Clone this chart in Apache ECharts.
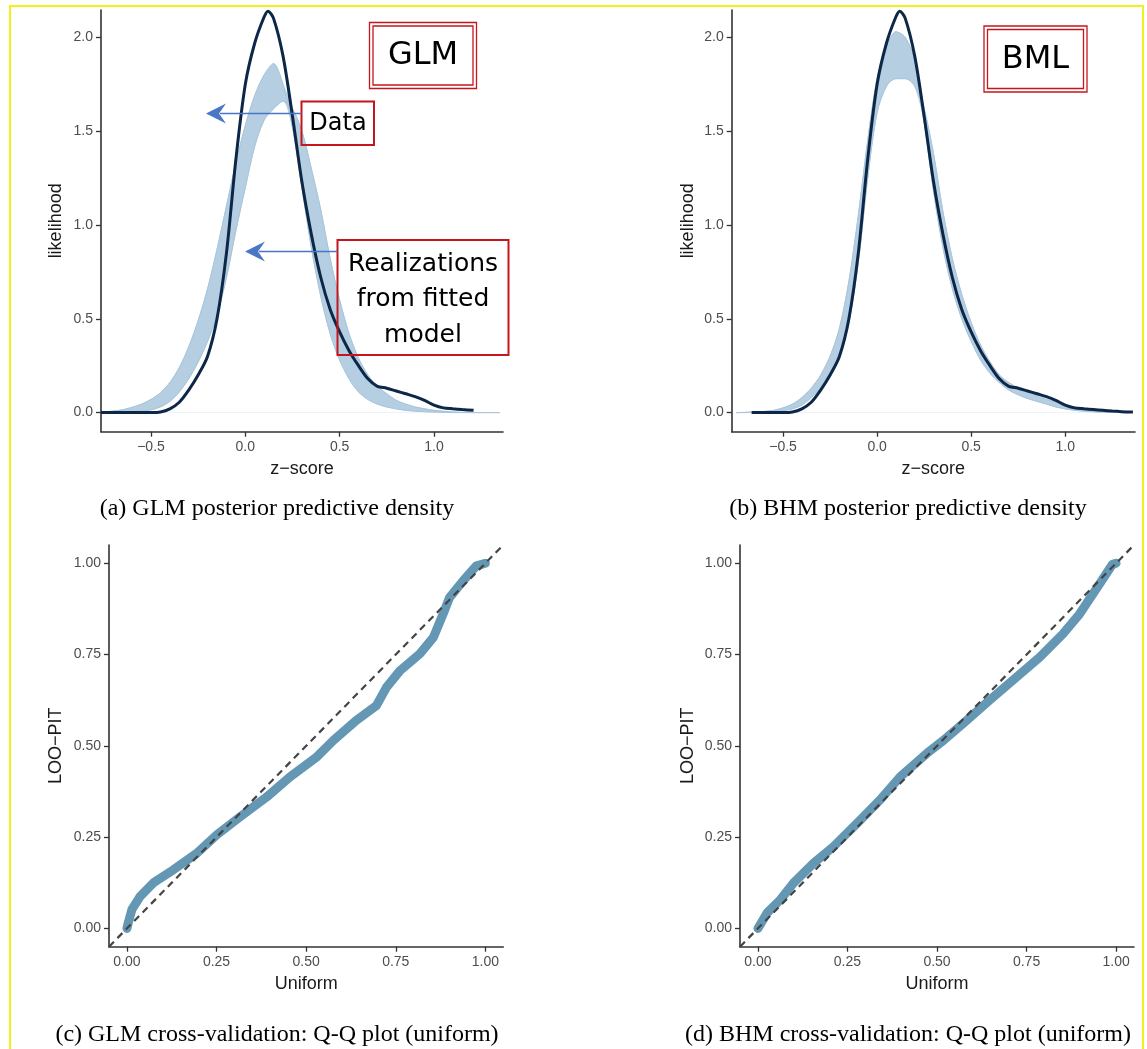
<!DOCTYPE html>
<html>
<head>
<meta charset="utf-8">
<script src="https://cdn.jsdelivr.net/npm/echarts@6/dist/echarts.min.js"></script>
<style>
html, body { margin: 0; padding: 0; background: #fff; }
#chart { width: 1147px; height: 1049px; }
</style>
</head>
<body>
<div id="chart"></div>
<script>
// z-score grid shared by the realization envelopes
var zGrid = [-0.75, -0.7, -0.65, -0.6, -0.55, -0.5, -0.45, -0.4, -0.35, -0.3, -0.25, -0.2, -0.15, -0.1, -0.05,
  0, 0.05, 0.1, 0.15, 0.2, 0.25, 0.3, 0.35, 0.4, 0.45, 0.5, 0.55, 0.6, 0.65, 0.7, 0.75, 0.8, 0.85, 0.9, 0.95,
  1.0, 1.05, 1.1, 1.15, 1.2, 1.25, 1.3, 1.35]

// GLM realizations: leftmost and rightmost curves of the light band
var glmLeft = [0.003, 0.008, 0.015, 0.028, 0.045, 0.07, 0.105, 0.16, 0.24, 0.35, 0.49, 0.66, 0.87, 1.1, 1.33,
  1.53, 1.69, 1.8, 1.86, 1.75, 1.52, 1.2, 0.88, 0.62, 0.42, 0.28, 0.18, 0.11, 0.07, 0.045, 0.03, 0.02, 0.012, 0.008, 0.005,
  0.003, 0.001, 0, 0, 0, 0, 0, 0]
var glmRight = [0, 0, 0.001, 0.003, 0.008, 0.015, 0.03, 0.06, 0.11, 0.18, 0.27, 0.38, 0.52, 0.72, 0.97,
  1.2, 1.42, 1.56, 1.62, 1.66, 1.62, 1.5, 1.3, 1.08, 0.82, 0.6, 0.42, 0.29, 0.2, 0.14, 0.1, 0.065, 0.045, 0.03, 0.02,
  0.012, 0.007, 0.003, 0.001, 0, 0, 0, 0]

// BHM realizations
var bhmLeft = [0, 0.001, 0.003, 0.006, 0.012, 0.025, 0.045, 0.08, 0.13, 0.2, 0.3, 0.45, 0.7, 1.05, 1.45,
  1.78, 1.95, 2.03, 2.0, 1.88, 1.55, 1.18, 0.88, 0.66, 0.5, 0.38, 0.28, 0.21, 0.16, 0.12, 0.095, 0.075, 0.06, 0.045, 0.03,
  0.02, 0.012, 0.008, 0.004, 0.002, 0.001, 0, 0]
var bhmRight = [0, 0, 0.001, 0.002, 0.005, 0.01, 0.02, 0.04, 0.08, 0.13, 0.19, 0.3, 0.48, 0.8, 1.25,
  1.6, 1.74, 1.78, 1.78, 1.74, 1.62, 1.38, 1.07, 0.82, 0.63, 0.48, 0.36, 0.27, 0.2, 0.16, 0.13, 0.11, 0.09, 0.07, 0.055,
  0.04, 0.028, 0.018, 0.01, 0.006, 0.003, 0.002, 0.001]

// observed density (dark line)
var glmObsZ = [-0.765, -0.5, -0.45, -0.4, -0.35, -0.3, -0.25, -0.2, -0.15, -0.1, -0.05, 0, 0.05, 0.1, 0.12, 0.15,
  0.2, 0.25, 0.3, 0.35, 0.4, 0.45, 0.5, 0.55, 0.6, 0.65, 0.7, 0.75, 0.8, 0.85, 0.9, 0.95, 1.0, 1.05, 1.1, 1.15, 1.21]
var glmObsL = [0, 0, 0.003, 0.02, 0.055, 0.12, 0.2, 0.3, 0.5, 0.85, 1.35, 1.75, 1.97, 2.11, 2.14, 2.1,
  1.9, 1.58, 1.23, 0.95, 0.72, 0.55, 0.43, 0.33, 0.25, 0.18, 0.14, 0.13, 0.115, 0.1, 0.085, 0.065, 0.04, 0.025, 0.02, 0.016, 0.012]
var bhmObsZ = [-0.667, -0.5, -0.45, -0.4, -0.35, -0.3, -0.25, -0.2, -0.15, -0.1, -0.05, 0, 0.05, 0.1, 0.12, 0.15,
  0.2, 0.25, 0.3, 0.35, 0.4, 0.45, 0.5, 0.55, 0.6, 0.65, 0.7, 0.75, 0.8, 0.85, 0.9, 0.95, 1.0, 1.05, 1.1, 1.15, 1.2,
  1.25, 1.3, 1.36]
var bhmObsL = [0, 0, 0.003, 0.02, 0.055, 0.12, 0.2, 0.3, 0.5, 0.85, 1.35, 1.75, 1.97, 2.11, 2.14, 2.1,
  1.9, 1.58, 1.23, 0.95, 0.72, 0.55, 0.43, 0.33, 0.25, 0.18, 0.14, 0.13, 0.115, 0.1, 0.085, 0.065, 0.04, 0.025, 0.02, 0.016, 0.012,
  0.008, 0.005, 0.003]

// LOO-PIT against uniform quantiles
var glmUniform = [0, 0.005, 0.014, 0.037, 0.074, 0.13, 0.195, 0.25, 0.316, 0.39, 0.455, 0.53, 0.576, 0.64, 0.696,
  0.724, 0.762, 0.817, 0.855, 0.882, 0.9, 0.938, 0.975, 1.0]
var glmPit = [0, 0.02, 0.052, 0.088, 0.125, 0.161, 0.206, 0.256, 0.306, 0.36, 0.415, 0.47, 0.515, 0.57, 0.61,
  0.66, 0.706, 0.752, 0.797, 0.861, 0.906, 0.952, 0.993, 1.0]
var bhmUniform = [0, 0.026, 0.063, 0.1, 0.156, 0.211, 0.277, 0.341, 0.397, 0.471, 0.518, 0.583, 0.647, 0.722,
  0.787, 0.851, 0.898, 0.944, 0.99, 1.0]
var bhmPit = [0, 0.043, 0.079, 0.125, 0.179, 0.224, 0.288, 0.352, 0.415, 0.479, 0.515, 0.57, 0.625, 0.688,
  0.743, 0.806, 0.861, 0.929, 0.997, 1.0]
var refLine = [-0.05, 1.05]

// tick values
var zTicks = [-0.5, 0, 0.5, 1.0]
var likTicks = [0, 0.5, 1.0, 1.5, 2.0]
var qqTicks = [0, 0.25, 0.5, 0.75, 1.0]

var BAND = '#b5cee2'
var BAND_EDGE = '#a9c6dc'
var OBS = '#0d2748'
var QQ = '#6497b3'
var SANS = 'Liberation Sans, Arial, Helvetica, sans-serif'

function pairs(xs, ys) {
  return xs.map(function(x, i) { return [x, ys[i]] })
}
function bandEdge(a, b, pick) {
  return zGrid.map(function(z, i) { return [z, pick(a[i], b[i])] })
}
function fmt(d) {
  return function(v) { return (v < 0 ? '\u2212' : '') + Math.abs(v).toFixed(d) }
}

function axisOf(grid, min, max, ticks, d, name, gap) {
  return {
    gridIndex: grid, type: 'value', min: min, max: max,
    axisLine: { show: true, onZero: false, lineStyle: { color: '#333', width: 1.6 }},
    axisTick: { show: true, length: 5, customValues: ticks, lineStyle: { color: '#333', width: 1.3 }},
    axisLabel: { customValues: ticks, formatter: fmt(d), color: '#4d4d4d', fontSize: 14, fontFamily: SANS, margin: 8 },
    splitLine: { show: false },
    name: name, nameLocation: 'middle', nameGap: gap,
    nameTextStyle: { color: '#1a1a1a', fontSize: 18, fontFamily: SANS }
  }
}

function line(idx, data, color, width, extra) {
  var s = {
    type: 'line', xAxisIndex: idx, yAxisIndex: idx, data: data, symbol: 'none', silent: true,
    lineStyle: { color: color, width: width }
  }
  for (var k in extra) s[k] = extra[k]
  return s
}

// band = area under the upper envelope, with the area under the lower envelope painted back to white
function densitySeries(idx, left, right, obs) {
  return [
    line(idx, bandEdge(left, right, Math.max), BAND, 1, { smooth: 0.3, areaStyle: { color: BAND, opacity: 1 }}),
    line(idx, bandEdge(left, right, Math.min), BAND, 1, { smooth: 0.3, areaStyle: { color: '#fff', opacity: 1 }}),
    line(idx, pairs(zGrid, left), BAND_EDGE, 1, { smooth: 0.3 }),
    line(idx, pairs(zGrid, right), BAND_EDGE, 1, { smooth: 0.3 }),
    line(idx, obs, OBS, 3, { smooth: 0.3 })
  ]
}
function qqSeries(idx, u, pit) {
  return [
    line(idx, pairs(u, pit), QQ, 9, { lineStyle: { color: QQ, width: 9, cap: 'round', join: 'round' }}),
    line(idx, [[refLine[0], refLine[0]], [refLine[1], refLine[1]]], '#444', 2.2,
      { lineStyle: { color: '#444', width: 2.2, type: [7, 5] }})
  ]
}

function box(x, y, w, h, lw) {
  return { type: 'rect', z: 100, silent: true, shape: { x: x, y: y, width: w, height: h },
    style: { fill: null, stroke: '#c4161c', lineWidth: lw }}
}
function label(text, x, y, size, font) {
  return { type: 'text', z: 100, silent: true,
    style: { text: text, x: x, y: y, fill: '#000', font: size + 'px ' + font, align: 'center', verticalAlign: 'middle' }}
}
function arrow(x1, x0, y) {
  return [
    { type: 'line', z: 100, shape: { x1: x1, y1: y, x2: x0 + 14, y2: y }, style: { stroke: '#4a76c6', lineWidth: 1.6 }},
    { type: 'polygon', z: 100, shape: { points: [[x0, y], [x0 + 20, y - 10], [x0 + 13, y], [x0 + 20, y + 10]] },
      style: { fill: '#4a76c6' }}
  ]
}

var SERIF = 'Liberation Serif, Times New Roman, serif'
var ANNO = 'DejaVu Sans, Verdana, sans-serif'

var graphics = [
  { type: 'rect', z: 100, silent: true, shape: { x: 10, y: 6, width: 1133, height: 1060 }, style: { fill: null, stroke: '#f2f21a', lineWidth: 2 }},
  box(369.5, 22.5, 107, 66, 1.3), box(373, 26, 100, 59, 1.3), label('GLM', 423, 56, 32, ANNO),
  box(984, 26, 103, 66, 1.3), box(987.5, 29.5, 96, 59, 1.3), label('BML', 1035.5, 60, 32, ANNO),
  box(301.5, 101.5, 72.5, 43.5, 2), label('Data', 338, 124, 24, ANNO),
  box(337.5, 240, 171, 115, 2),
  label('Realizations', 423, 264, 25, ANNO), label('from fitted', 423, 299, 25, ANNO), label('model', 423, 335, 25, ANNO),
  label('(a) GLM posterior predictive density', 277, 509, 24, SERIF),
  label('(b) BHM posterior predictive density', 908, 509, 24, SERIF),
  label('(c) GLM cross-validation: Q-Q plot (uniform)', 277, 1035, 24, SERIF),
  label('(d) BHM cross-validation: Q-Q plot (uniform)', 908, 1035, 24, SERIF)
].concat(arrow(301.5, 206, 113.5), arrow(337.5, 245, 251.5))

var chart = echarts.init(document.getElementById('chart'))
chart.setOption({
  animation: false,
  backgroundColor: '#fff',
  grid: [
    { left: 101, top: 10, width: 402, height: 421.7 },
    { left: 731.7, top: 10, width: 403.3, height: 421.7 },
    { left: 109, top: 545, width: 394.3, height: 401.7 },
    { left: 740, top: 545, width: 394, height: 401.7 }
  ],
  xAxis: [
    axisOf(0, -0.765, 1.366, zTicks, 1, 'z\u2212score', 28),
    axisOf(1, -0.773, 1.371, zTicks, 1, 'z\u2212score', 28),
    axisOf(2, -0.05, 1.05, qqTicks, 2, 'Uniform', 28),
    axisOf(3, -0.05, 1.05, qqTicks, 2, 'Uniform', 28)
  ],
  yAxis: [
    axisOf(0, -0.102, 2.146, likTicks, 1, 'likelihood', 36),
    axisOf(1, -0.102, 2.146, likTicks, 1, 'likelihood', 35),
    axisOf(2, -0.05, 1.05, qqTicks, 2, 'LOO\u2212PIT', 44),
    axisOf(3, -0.05, 1.05, qqTicks, 2, 'LOO\u2212PIT', 43)
  ],
  series: []
    .concat(densitySeries(0, glmLeft, glmRight, pairs(glmObsZ, glmObsL)))
    .concat(densitySeries(1, bhmLeft, bhmRight, pairs(bhmObsZ, bhmObsL)))
    .concat(qqSeries(2, glmUniform, glmPit))
    .concat(qqSeries(3, bhmUniform, bhmPit)),
  graphic: graphics
})
</script>
</body>
</html>
